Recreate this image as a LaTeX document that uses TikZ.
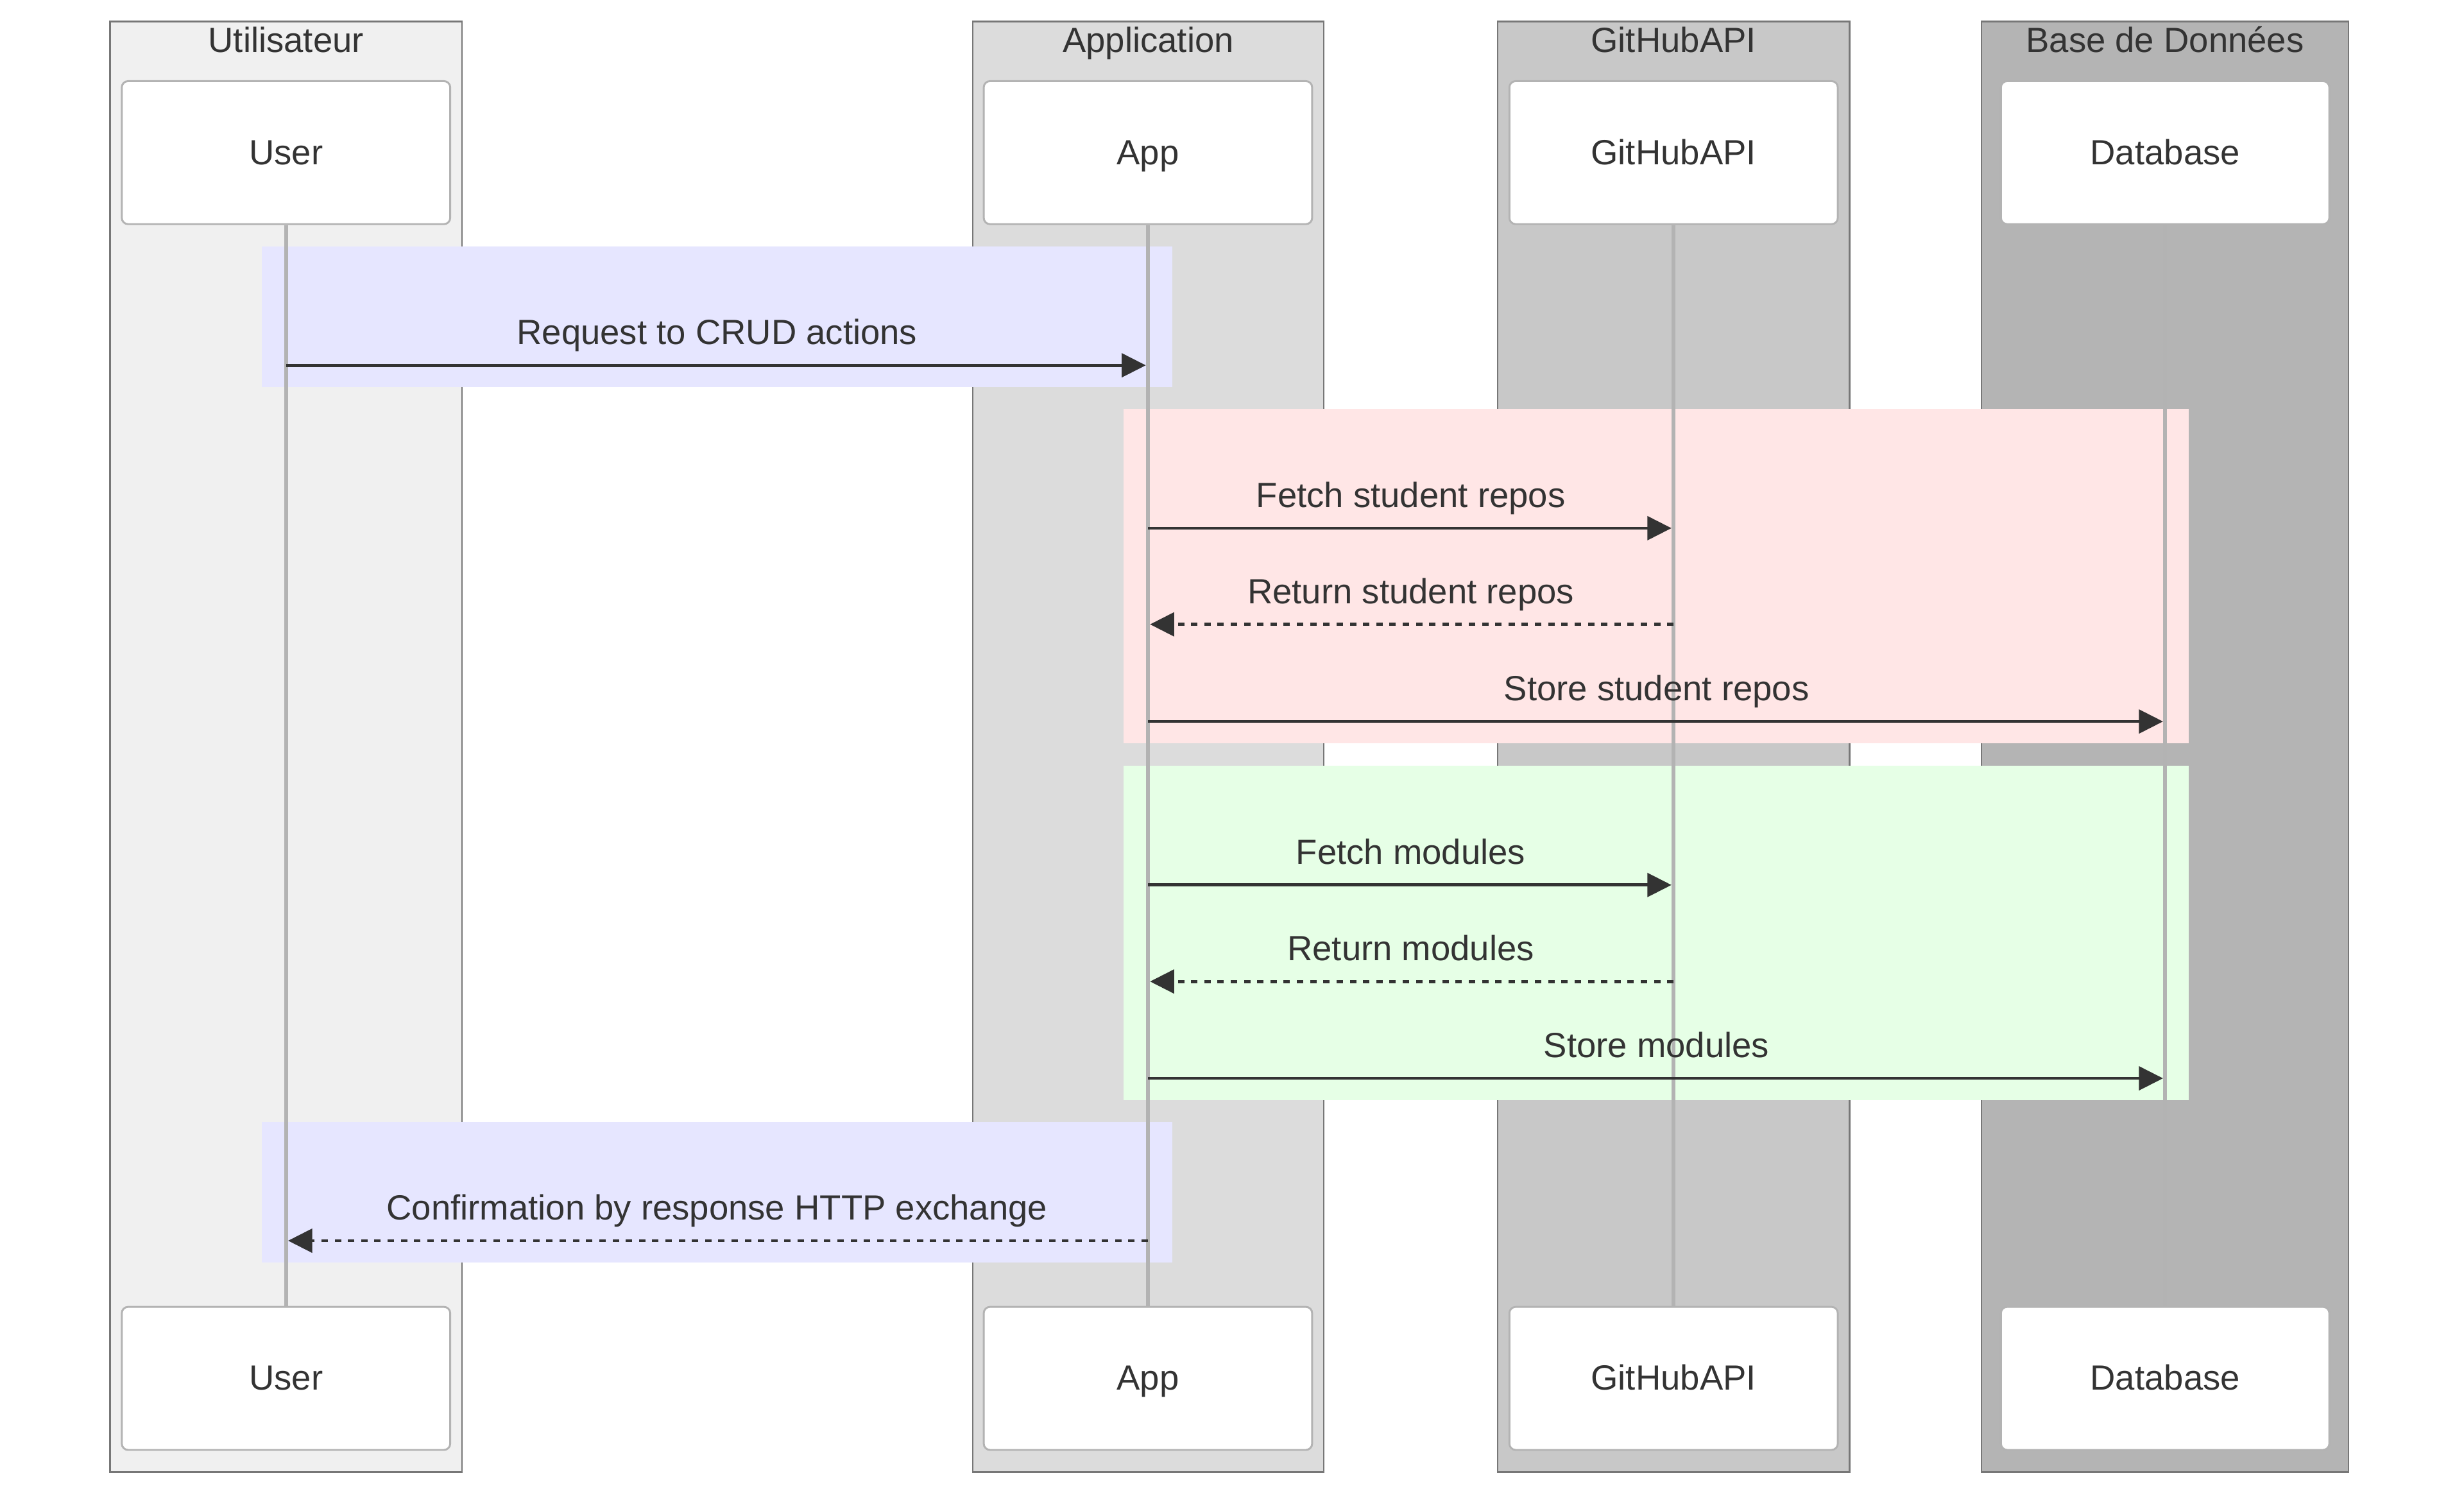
\documentclass[tikz,border=0pt]{standalone}
\usepackage{fontspec}
\setmainfont{Liberation Sans}
\usetikzlibrary{arrows.meta}
\definecolor{txt}{HTML}{333333}
\definecolor{grpline}{HTML}{777777}
\definecolor{gA}{HTML}{F0F0F0}
\definecolor{gB}{HTML}{DCDCDC}
\definecolor{gC}{HTML}{C8C8C8}
\definecolor{gD}{HTML}{B4B4B4}
\definecolor{actline}{HTML}{B3B3B3}
\definecolor{lifecol}{HTML}{B3B3B3}
\definecolor{rblue}{HTML}{E6E6FF}
\definecolor{rpink}{HTML}{FFE6E6}
\definecolor{rgreen}{HTML}{E6FFE6}
\tikzset{
  grp/.style={draw=grpline, line width=0.6pt},
  grptitle/.style={anchor=base, text=txt},
  actor/.style={draw=actline, fill=white, line width=0.72pt, rounded corners=2.4pt,
    minimum width=125.4pt, minimum height=54.6pt, inner sep=0pt,
    text height=9pt, text depth=0pt, text=txt},
  life/.style={draw=lifecol, line width=1.55pt},
  msg/.style={draw=txt, line width=1.15pt, -{Triangle[length=9.2pt,width=9pt]}, shorten >=0.8pt},
  reply/.style={msg, line width=1.2pt, dash pattern=on 2.45pt off 2.6pt},
  lbl/.style={midway, anchor=base, yshift=7.9pt, text=txt}
}
\begin{document}
\begin{tikzpicture}[x=0.6pt, y=-0.6pt, font=\fontsize{13.35}{16}\selectfont]
\useasboundingbox (0,0) rectangle (1568,953.9);
\fill[white] (0,0) rectangle (1568,953.9);

% participant groups
\draw[grp, fill=gA] (70,13.7) rectangle (294,936.5);
\draw[grp, fill=gB] (619,13.7) rectangle (842.4,936.5);
\draw[grp, fill=gC] (953,13.7) rectangle (1177,936.5);
\draw[grp, fill=gD] (1261,13.7) rectangle (1494.5,936.5);
\node[grptitle] (tU) at (182,33.4) {Utilisateur};
\node[grptitle] (tA) at (730.7,33.4) {Application};
\node[grptitle] (tG) at (1065,33.4) {GitHubAPI};
\node[grptitle] (tD) at (1377.7,33.4) {Base de Données};

% actors
\node[actor] (userT) at (182,97.1) {User};
\node[actor] (appT) at (730.5,97.1) {App};
\node[actor] (ghT) at (1065,97.1) {GitHubAPI};
\node[actor] (dbT) at (1377.8,97.1) {Database};
\node[actor] (userB) at (182,876.9) {User};
\node[actor] (appB) at (730.5,876.9) {App};
\node[actor] (ghB) at (1065,876.9) {GitHubAPI};
\node[actor] (dbB) at (1377.8,876.9) {Database};

% highlight rectangles
\fill[rblue] (166.5,156.8) rectangle (746,246.1);
\fill[rpink] (715,260.3) rectangle (1393,473);
\fill[rgreen] (715,487) rectangle (1393,699.7);
\fill[rblue] (166.5,713.7) rectangle (746,803.3);

% lifelines
\draw[life] (userT) -- (userB);
\draw[life] (appT) -- (appB);
\draw[life] (ghT) -- (ghB);
\draw[life] (dbT) -- (dbB);

% message rows
\coordinate (r1) at (0,232.4);
\coordinate (r2) at (0,336);
\coordinate (r3) at (0,397.2);
\coordinate (r4) at (0,459);
\coordinate (r5) at (0,563);
\coordinate (r6) at (0,624.4);
\coordinate (r7) at (0,686);
\coordinate (r8) at (0,789.3);

\draw[msg] (userT |- r1) -- (appT |- r1) node[lbl] {Request to CRUD actions};
\draw[msg] (appT |- r2) -- (ghT |- r2) node[lbl] {Fetch student repos};
\draw[reply] (ghT |- r3) -- (appT |- r3) node[lbl] {Return student repos};
\draw[msg] (appT |- r4) -- (dbT |- r4) node[lbl] {Store student repos};
\draw[msg] (appT |- r5) -- (ghT |- r5) node[lbl] {Fetch modules};
\draw[reply] (ghT |- r6) -- (appT |- r6) node[lbl] {Return modules};
\draw[msg] (appT |- r7) -- (dbT |- r7) node[lbl] {Store modules};
\draw[reply] (appT |- r8) -- (userT |- r8) node[lbl] {Confirmation by response HTTP exchange};
\end{tikzpicture}
\end{document}
